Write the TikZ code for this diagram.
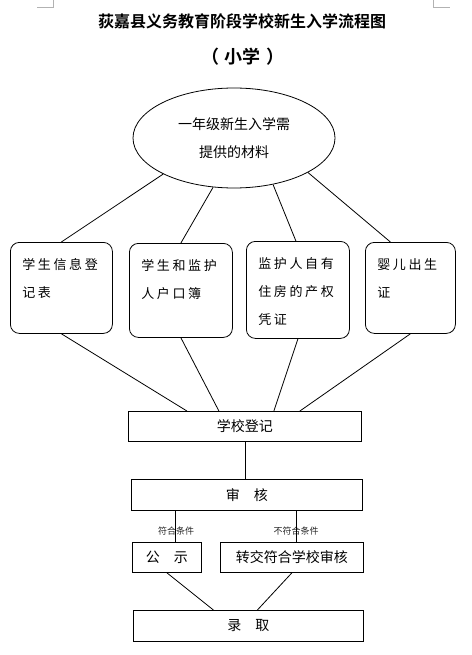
\documentclass[tikz,border=0pt]{standalone}
\usepackage{fontspec}
\setmainfont{Noto Sans CJK SC}[BoldFont={Noto Sans CJK SC Bold}]
\usetikzlibrary{shapes.geometric}

\begin{document}
\begin{tikzpicture}[x=1pt,y=-1pt,line width=0.8pt,
    every node/.style={inner sep=0pt},
    card/.style={draw,rounded corners=9pt,anchor=north west,inner xsep=12pt,inner ysep=16pt,
      font=\fontsize{13}{28}\selectfont\addfontfeature{LetterSpace=20}},
    bar/.style={draw,anchor=north west,font=\fontsize{14}{14}\selectfont},
    cond/.style={font=\fontsize{9}{9}\selectfont,text=black!85}]
  \useasboundingbox (0,0) rectangle (471,655);
  \draw[gray!60,line width=0.5pt] (37,7) -- (53,7) -- (53,0) (433,0) -- (433,7) -- (450,7);
  \node[font=\bfseries\fontsize{16}{16}\selectfont] (title) at (242,21) {荻嘉县义务教育阶段学校新生入学流程图};
  \node[font=\bfseries\fontsize{18}{18}\selectfont] (level) at (243,57) {（\hspace{6pt}小学\hspace{6pt}）};
  \node[draw,ellipse,minimum width=202,minimum height=100,align=center,
    font=\fontsize{14}{28}\selectfont] (mat) at (234,138) {一年级新生入学需\\提供的材料};
  % materials
  \node[card] (info) at (10,242) {\parbox[c][59pt][t]{78pt}{学生信息登\\记表}};
  \node[card] (hukou) at (129,243) {\parbox[c][62pt][t]{79pt}{学生和监护\\人户口簿}};
  \node[card] (house) at (246,241) {\parbox[c][65pt][t]{79pt}{监护人自有\\住房的产权\\凭证}};
  \node[card] (birth) at (365,242) {\parbox[c][59pt][t]{66pt}{婴儿出生\\证}};
  % steps
  \node[bar,minimum width=233,minimum height=30] (reg) at (128,411) {学校登记};
  \node[bar,minimum width=231,minimum height=31] (audit) at (131,479) {审　核};
  \node[bar,minimum width=69,minimum height=30] (pub) at (132,542) {公　示};
  \node[bar,minimum width=143,minimum height=30] (trans) at (220,542) {转交符合学校审核};
  \node[bar,minimum width=230,minimum height=31] (enrol) at (133,610) {录　取};
  \node[cond] (pass) at (176,531) {符合条件};
  \node[cond] (fail) at (296,531) {不符合条件};
  \draw (mat.207) -- (info.north);
  \draw (mat.247) -- (hukou.north);
  \draw (mat.310) -- ([xshift=-2]house.north);
  \draw (mat.335) -- ([xshift=-20]birth.north);
  \draw (info.south) -- ([xshift=-58]reg.north);
  \draw (hukou.south) -- ([xshift=-26]reg.north);
  \draw (house.south) -- ([xshift=29]reg.north);
  \draw (birth.south) -- ([xshift=55]reg.north);
  \draw (reg.south) -- (reg.south |- audit.north);
  \draw ([xshift=8]pub.north) -- ([xshift=8]pub.north |- audit.south);
  \draw ([xshift=4]trans.north) -- ([xshift=4]trans.north |- audit.south);
  \draw (pub.south) -- ([xshift=-35]enrol.north);
  \draw (trans.south) -- ([xshift=9]enrol.north);
\end{tikzpicture}
\end{document}
